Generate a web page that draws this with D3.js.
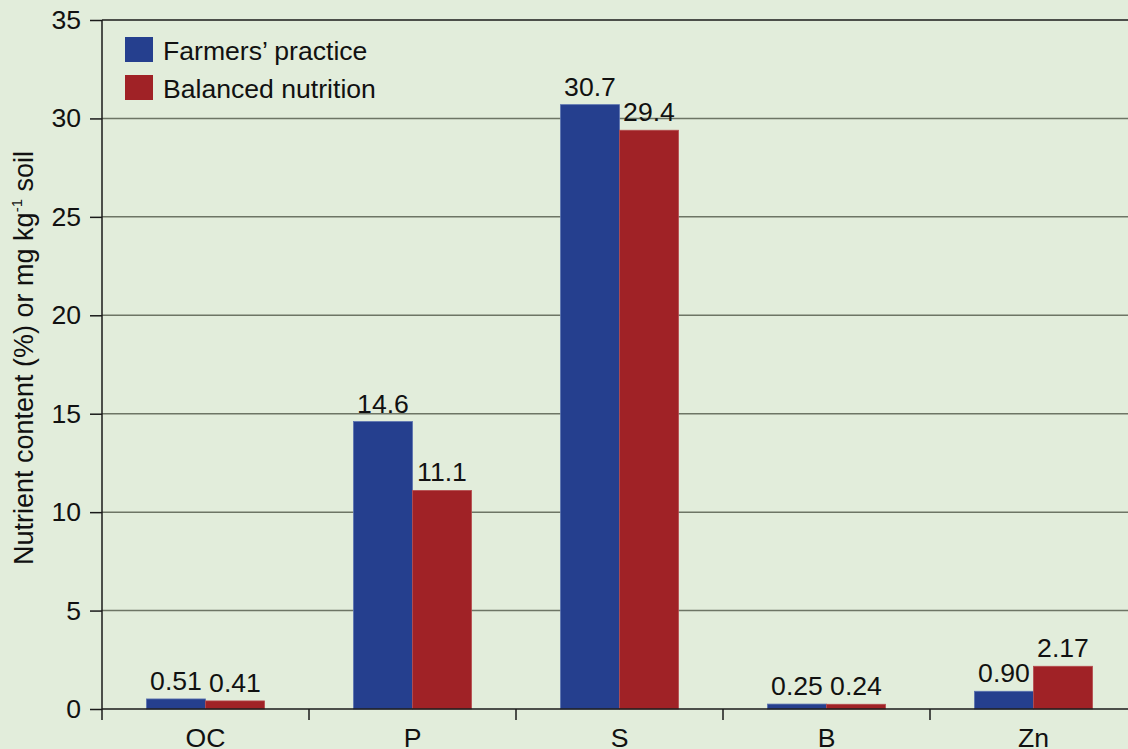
<!DOCTYPE html>
<html>
<head>
<meta charset="utf-8">
<script src="https://cdn.jsdelivr.net/npm/d3@7/dist/d3.min.js"></script>
<style>
  html, body { margin: 0; padding: 0; background: #e2eddb; }
  svg { display: block; font-family: "Liberation Sans", Arial, sans-serif; }
</style>
</head>
<body>
<svg id="chart" width="1128" height="749"></svg>
<script>
// Soil nutrient status under two management practices
const categories = ["OC", "P", "S", "B", "Zn"];
const seriesNames = ["Farmers\u2019 practice", "Balanced nutrition"];
const farmersPractice = [0.51, 14.6, 30.7, 0.25, 0.90];
const balancedNutrition = [0.41, 11.1, 29.4, 0.24, 2.17];
const valueLabels = [
  ["0.51", "14.6", "30.7", "0.25", "0.90"],
  ["0.41", "11.1", "29.4", "0.24", "2.17"]
];
const yTicks = [0, 5, 10, 15, 20, 25, 30, 35];
const colors = ["#253f8e", "#a02226"];

const svg = d3.select("#chart");
const plotLeft = 102, plotTop = 20, plotBottom = 709, plotRight = 1137;
const fontSize = 26.6;

const x = d3.scaleBand().domain(categories).range([plotLeft, plotRight]).padding(0);
const inner = d3.scaleBand().domain([0, 1]).range([0, x.bandwidth()]).paddingOuter(0.754).paddingInner(0);
const y = d3.scaleLinear().domain([0, 35]).range([plotBottom, plotTop]);

// horizontal gridlines
svg.append("g").selectAll("line")
  .data(yTicks.filter(d => d > 0))
  .join("line")
  .attr("x1", plotLeft).attr("x2", 1128)
  .attr("y1", d => y(d)).attr("y2", d => y(d))
  .attr("stroke", d => d === 35 ? "#1a1a1a" : "#6d7565")
  .attr("stroke-width", 1.5);

// bars with value labels
const series = [farmersPractice, balancedNutrition];
series.forEach((vals, s) => {
  const g = svg.append("g");
  g.selectAll("rect")
    .data(categories)
    .join("rect")
    .attr("x", (c) => x(c) + inner(s))
    .attr("width", inner.bandwidth())
    .attr("y", (c, i) => y(vals[i]))
    .attr("height", (c, i) => y(0) - y(vals[i]))
    .attr("fill", colors[s])
    .attr("stroke", s === 0 ? "#5a72b0" : "#b54b4e")
    .attr("stroke-width", 0.8);
  g.selectAll("text")
    .data(categories)
    .join("text")
    .attr("x", (c) => x(c) + inner(s) + inner.bandwidth() / 2)
    .attr("y", (c, i) => y(vals[i]) - 9)
    .attr("text-anchor", "middle")
    .attr("font-size", fontSize)
    .attr("fill", "#111")
    .text((c, i) => valueLabels[s][i]);
});

// y axis
const yAxis = d3.axisLeft(y).tickValues(yTicks).tickSize(12).tickPadding(9).tickFormat(d3.format("d"));
const ya = svg.append("g").attr("transform", `translate(${plotLeft},0)`).call(yAxis);
ya.select(".domain").attr("stroke", "#1a1a1a").attr("stroke-width", 1.5).attr("d", `M0,${plotTop}V${plotBottom}`);
ya.selectAll(".tick line").attr("stroke", "#1a1a1a").attr("stroke-width", 1.5);
ya.selectAll(".tick text").attr("font-size", fontSize).attr("fill", "#111").attr("font-family", "Liberation Sans, Arial, sans-serif");

// x axis
const xa = svg.append("g").attr("transform", `translate(0,${plotBottom})`);
xa.append("line").attr("x1", plotLeft).attr("x2", 1128).attr("y1", 0).attr("y2", 0)
  .attr("stroke", "#1a1a1a").attr("stroke-width", 1.5);
xa.selectAll("line.tk")
  .data(categories)
  .join("line").attr("class", "tk")
  .attr("x1", c => x(c)).attr("x2", c => x(c))
  .attr("y1", 0).attr("y2", 11)
  .attr("stroke", "#1a1a1a").attr("stroke-width", 1.5);
xa.selectAll("text")
  .data(categories)
  .join("text")
  .attr("x", c => x(c) + x.bandwidth() / 2)
  .attr("y", 38)
  .attr("text-anchor", "middle")
  .attr("font-size", fontSize)
  .attr("fill", "#111")
  .text(c => c);

// y axis title
const title = svg.append("text")
  .attr("transform", "translate(33,358) rotate(-90)")
  .attr("text-anchor", "middle")
  .attr("font-size", 27)
  .attr("fill", "#111");
title.append("tspan").text("Nutrient content (%) or mg kg");
title.append("tspan").attr("font-size", 15).attr("dy", -11).text("-1");
title.append("tspan").attr("dy", 11).text(" soil");

// legend
const legend = svg.append("g");
seriesNames.forEach((name, i) => {
  legend.append("rect")
    .attr("x", 125).attr("y", 37 + i * 38)
    .attr("width", 28).attr("height", 25)
    .attr("fill", colors[i]);
  legend.append("text")
    .attr("x", 163).attr("y", 60 + i * 38)
    .attr("font-size", fontSize)
    .attr("fill", "#111")
    .text(name);
});
</script>
</body>
</html>
